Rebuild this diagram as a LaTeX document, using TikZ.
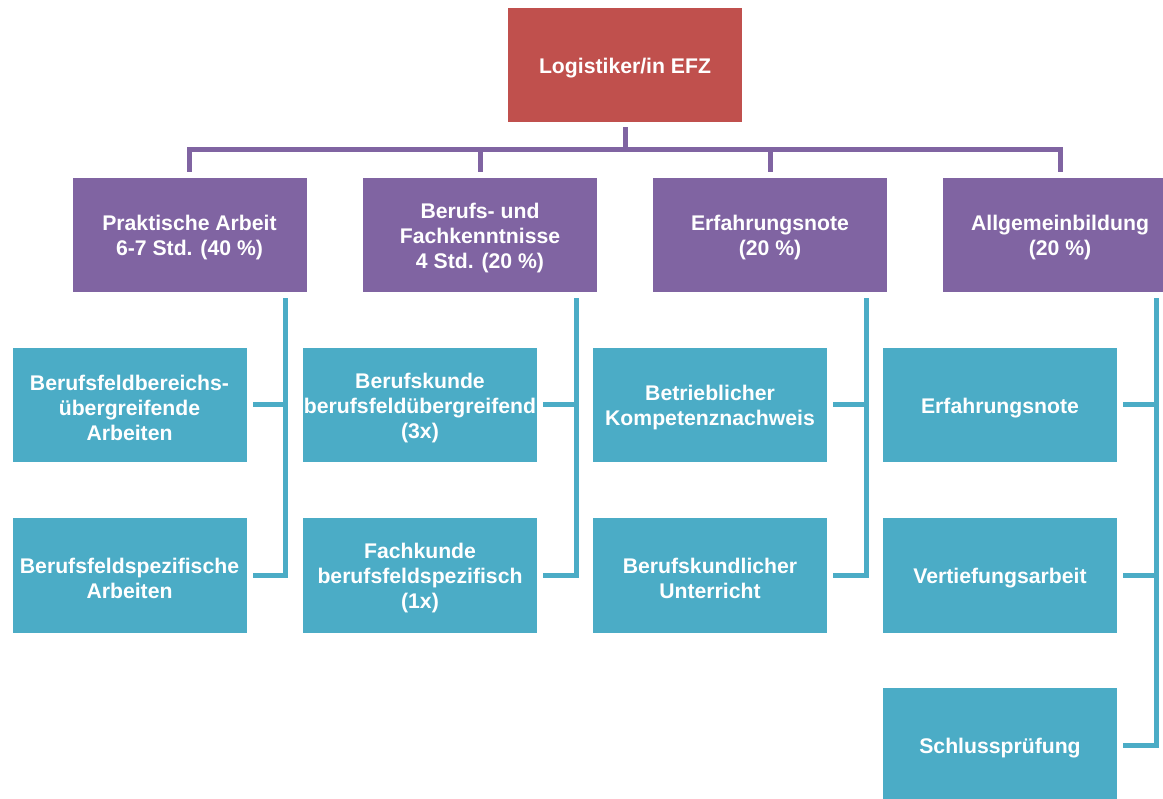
\documentclass[tikz,border=0pt]{standalone}
\usepackage{fontspec}
\setmainfont{Liberation Sans}
\definecolor{cred}{HTML}{C0504D}
\definecolor{cpurple}{HTML}{8064A2}
\definecolor{cteal}{HTML}{4BACC6}
\begin{document}
\begin{tikzpicture}[x=1pt,y=-1pt,
  boxbase/.style={rectangle,inner sep=0pt,minimum width=234pt,minimum height=114pt},
  redbox/.style={boxbase,fill=cred},
  purplebox/.style={boxbase,fill=cpurple},
  tealbox/.style={boxbase,fill=cteal},
  boxtext/.style={inner sep=0pt,align=center,text=white,yshift=-3pt,
    font=\fontsize{21.2}{25}\selectfont\bfseries},
  pline/.style={draw=cpurple,line width=5pt,line join=miter},
  tline/.style={draw=cteal,line width=5pt,line join=miter}]
\useasboundingbox (0,0) rectangle (1163,799);
\clip (0,0) rectangle (1163,799);
\fill[white] (0,0) rectangle (1163,799);

\node[redbox] (top) at (625,65) {};
\node[boxtext] (topt) at (top.center) {Logistiker/in EFZ};

\node[purplebox] (p1) at (189.5,235) {};
\node[purplebox] (p2) at (480,235) {};
\node[purplebox] (p3) at (770,235) {};
\node[purplebox] (p4) at (1060,235) {};
\node[boxtext] (p1t) at (p1.center) {Praktische Arbeit\\6-7 Std. (40 \%)};
\node[boxtext] (p2t) at (p2.center) {Berufs- und\\Fachkenntnisse\\4 Std. (20 \%)};
\node[boxtext] (p3t) at (p3.center) {Erfahrungsnote\\(20 \%)};
\node[boxtext] (p4t) at (p4.center) {Allgemeinbildung\\(20 \%)};

\node[tealbox] (t11) at (129.5,405) {};
\node[tealbox] (t12) at (129.5,575.5) {};
\node[tealbox] (t21) at (420,405) {};
\node[tealbox] (t22) at (420,575.5) {};
\node[tealbox] (t31) at (710,405) {};
\node[tealbox] (t32) at (710,575.5) {};
\node[tealbox] (t41) at (1000,405) {};
\node[tealbox] (t42) at (1000,575.5) {};
\node[tealbox] (t43) at (1000,745) {};
\node[boxtext] (t11t) at (t11.center) {Berufsfeldbereichs-\\übergreifende\\Arbeiten};
\node[boxtext] (t12t) at (t12.center) {Berufsfeldspezifische\\Arbeiten};
\node[boxtext] (t21t) at (t21.center) {Berufskunde\\berufsfeldübergreifend\\(3x)};
\node[boxtext] (t22t) at (t22.center) {Fachkunde\\berufsfeldspezifisch\\(1x)};
\node[boxtext] (t31t) at (t31.center) {Betrieblicher\\Kompetenznachweis};
\node[boxtext] (t32t) at (t32.center) {Berufskundlicher\\Unterricht};
\node[boxtext] (t41t) at (t41.center) {Erfahrungsnote};
\node[boxtext] (t42t) at (t42.center) {Vertiefungsarbeit};
\node[boxtext] (t43t) at (t43.center) {Schlussprüfung};

% purple connectors
\coordinate (hl) at (625,150);
\draw[pline] ([yshift=-5pt]top.south) -- (hl);
\draw[pline] ([yshift=6pt]p1.north) |- (hl) -| ([yshift=6pt]p4.north);
\draw[pline] (p2.north |- hl) -- ([yshift=6pt]p2.north);
\draw[pline] (p3.north |- hl) -- ([yshift=6pt]p3.north);

% teal connectors
\foreach \p/\a/\b in {p1/t11/t12, p2/t21/t22, p3/t31/t32}{
  \draw[tline] ([xshift=96pt,yshift=-6pt]\p.south) |- ([xshift=6pt]\b.east);
  \draw[tline] ([xshift=96pt]\p.south |- \a.east) -- ([xshift=6pt]\a.east);
}
\draw[tline] ([xshift=96pt,yshift=-6pt]p4.south) |- ([xshift=6pt]t43.east);
\draw[tline] ([xshift=96pt]p4.south |- t41.east) -- ([xshift=6pt]t41.east);
\draw[tline] ([xshift=96pt]p4.south |- t42.east) -- ([xshift=6pt]t42.east);
\end{tikzpicture}
\end{document}
